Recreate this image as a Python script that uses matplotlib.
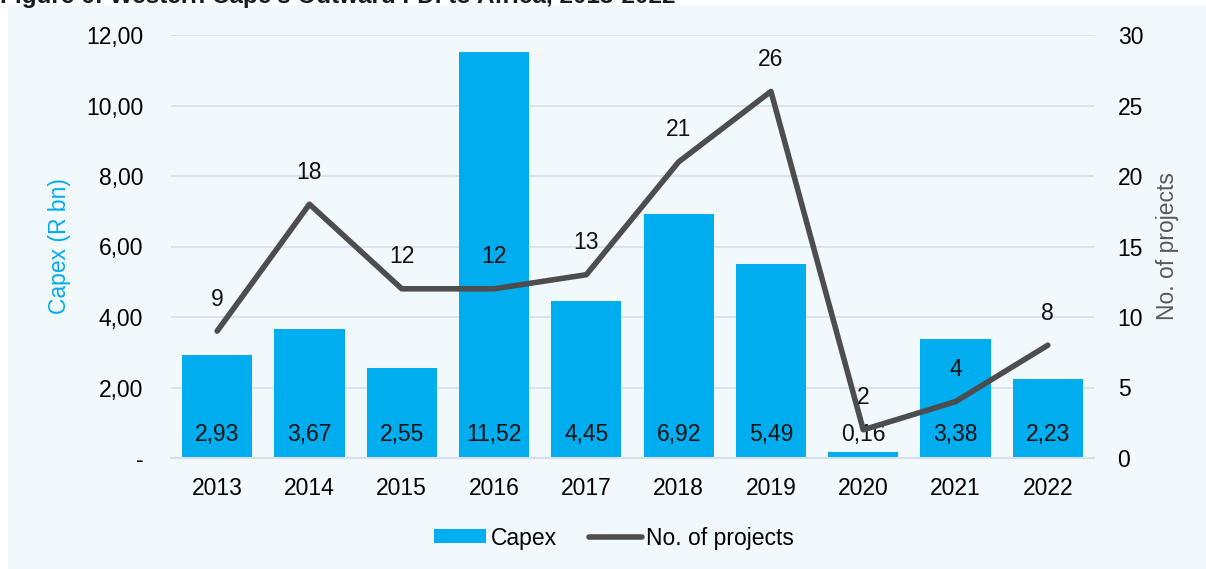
import matplotlib
matplotlib.use("Agg")
import matplotlib.pyplot as plt
from matplotlib.patches import Rectangle
from matplotlib.lines import Line2D

plt.rcParams['font.family'] = ['Liberation Sans', 'DejaVu Sans']

years = ["2013", "2014", "2015", "2016", "2017", "2018", "2019", "2020", "2021", "2022"]
capex = [2.93, 3.67, 2.55, 11.52, 4.45, 6.92, 5.49, 0.16, 3.38, 2.23]
projects = [9, 18, 12, 12, 13, 21, 26, 2, 4, 8]
left_ticks = [0, 2, 4, 6, 8, 10, 12]
left_labels = ["-", "2,00", "4,00", "6,00", "8,00", "10,00", "12,00"]
right_ticks = [0, 5, 10, 15, 20, 25, 30]

BAR = "#00ADEF"
LINE = "#4D4D4F"
BG = "#F2F9FD"
GRID = "#D5DFEE"
FS = 16.5

fig = plt.figure(figsize=(12.06, 5.69), dpi=100)
fig.patch.set_facecolor("white")
fig.patches.append(Rectangle((8/1206, 0), 1 - 8/1206, 1 - 5/569, transform=fig.transFigure,
                             facecolor=BG, edgecolor="none", zorder=-10))
fig.text(0.0, 1 - 3/569, "Figure 6: Western Cape's Outward FDI to Africa, 2013-2022",
         fontsize=17.5, fontweight="bold", va="baseline", ha="left", color="#1a1a1a")

ax = fig.add_axes([171/1206, 1 - 458/569, (1094-171)/1206, (458-35)/569])
ax.set_facecolor("none")
x = list(range(len(years)))
ax.bar(x, capex, width=0.76, color=BAR, zorder=2, label="Capex")
ax.set_xlim(-0.5, len(years) - 0.5)
ax.set_ylim(0, 12)
ax.set_yticks(left_ticks)
ax.set_yticklabels(left_labels, fontsize=FS)
ax.set_xticks(x)
ax.set_xticklabels(years, fontsize=FS)
ax.tick_params(axis="x", length=0, pad=14)
ax.tick_params(axis="y", length=0, pad=20)
ax.grid(axis="y", color=GRID, linewidth=1.2, zorder=0)
for s in ["top", "right", "left"]:
    ax.spines[s].set_visible(False)
ax.spines["bottom"].set_color(GRID)
ax.spines["bottom"].set_linewidth(1.5)
ax.set_ylabel("Capex (R bn)", fontsize=FS, color=BAR, labelpad=11)

for xi, v in zip(x, capex):
    ax.text(xi, 0.68, f"{v:.2f}".replace(".", ","), ha="center", va="center",
            fontsize=FS, color="#111111", zorder=4)

ax2 = ax.twinx()
ax2.plot(x, projects, color=LINE, linewidth=4, zorder=3, solid_capstyle="round",
         label="No. of projects")
ax2.set_ylim(0, 30)
ax2.set_yticks(right_ticks)
ax2.set_yticklabels([str(t) for t in right_ticks], fontsize=FS)
ax2.tick_params(axis="y", length=0, pad=17)
for s in ["top", "right", "left", "bottom"]:
    ax2.spines[s].set_visible(False)
ax2.set_ylabel("No. of projects", fontsize=FS, color="#595959", labelpad=9)
for xi, v in zip(x, projects):
    ax2.annotate(str(v), (xi, v), xytext=(0, 32), textcoords="offset pixels",
                 ha="center", va="center", fontsize=FS, color="#111111")

handles = [Rectangle((0, 0), 1, 1, facecolor=BAR, edgecolor="none"),
           Line2D([0], [0], color=LINE, linewidth=4, solid_capstyle="round")]
fig.legend(handles, ["Capex", "No. of projects"], loc="center",
           bbox_to_anchor=(614/1206, 1 - 538/569), ncol=2, frameon=False,
           fontsize=FS, handlelength=2.3, handleheight=0.55, handletextpad=0.2,
           columnspacing=1.4)

fig.savefig("out.png", dpi=100, facecolor=fig.get_facecolor())
